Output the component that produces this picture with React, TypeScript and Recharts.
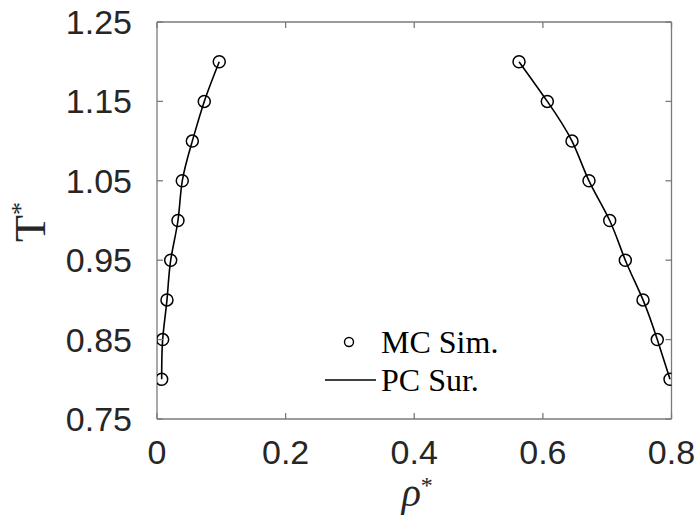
import { ComposedChart, Line, Scatter, XAxis, YAxis, Legend } from "recharts"

const temps = [0.8, 0.85, 0.9, 0.95, 1.0, 1.05, 1.1, 1.15, 1.2]
const rhoVapor = [0.0073, 0.0088, 0.0155, 0.0213, 0.0326, 0.0393, 0.0549, 0.0735, 0.0968]
const rhoLiquid = [0.7977, 0.7779, 0.7557, 0.7282, 0.7039, 0.6717, 0.6453, 0.6069, 0.5629]
const xTicks = [0, 0.2, 0.4, 0.6, 0.8]
const yTicks = [0.75, 0.85, 0.95, 1.05, 1.15, 1.25]

const vapor = temps.map((t, i) => ({ rho: rhoVapor[i], T: t }))
const liquid = temps.map((t, i) => ({ rho: rhoLiquid[i], T: t }))

const axisColor = "#7a7a7a"
const tickStyle = { fill: "#262626", fontSize: 34, fontFamily: "Liberation Sans, Arial, sans-serif" }

const RingDot = (props: any) => {
  const { cx, cy } = props
  if (cx == null || cy == null) return null
  return <circle cx={cx} cy={cy} r={6} fill="none" stroke="#000" strokeWidth={1.5} />
}

const LegendBox = () => (
  <div style={{ fontFamily: "Liberation Serif, Times New Roman, serif", fontSize: 32, color: "#000" }}>
    <div style={{ display: "flex", alignItems: "center", height: 38 }}>
      <svg width={56} height={38}>
        <circle cx={29} cy={19} r={4.5} fill="none" stroke="#000" strokeWidth={1.4} />
      </svg>
      <span style={{ marginLeft: 5 }}>MC Sim.</span>
    </div>
    <div style={{ display: "flex", alignItems: "center", height: 38 }}>
      <svg width={56} height={38}>
        <line x1={5} y1={19} x2={56} y2={19} stroke="#000" strokeWidth={1.5} />
      </svg>
      <span style={{ marginLeft: 5 }}>PC Sur.</span>
    </div>
  </div>
)

const YLabel = () => {
  const cx = 30
  const cy = 222
  return (
    <text
      x={cx}
      y={cy}
      transform={`rotate(-90, ${cx}, ${cy})`}
      textAnchor="middle"
      dominantBaseline="central"
      fontFamily="Liberation Serif, Times New Roman, serif"
      fontSize={44}
      fill="#262626"
    >
      <tspan>T</tspan>
      <tspan fontSize={26} dy={-10}>*</tspan>
    </text>
  )
}

const XLabel = (props: any) => {
  const { viewBox } = props
  const cx = viewBox.x + viewBox.width / 2 + 3
  return (
    <text
      x={cx}
      y={506}
      textAnchor="middle"
      fontFamily="Liberation Serif, Times New Roman, serif"
      fontSize={40}
      fill="#262626"
    >
      <tspan fontStyle="italic">ρ</tspan>
      <tspan fontSize={24} dy={-13}>*</tspan>
    </text>
  )
}

export default function App() {
  return (
    <div style={{ position: "absolute", left: 0, top: 0, background: "#fff" }}>
      <ComposedChart width={696} height={518} margin={{ top: 0, right: 0, bottom: 0, left: 0 }}>
        <XAxis
          xAxisId="bottom"
          dataKey="rho"
          type="number"
          domain={[0, 0.8]}
          ticks={xTicks}
          allowDataOverflow
          height={99}
          tickSize={-6}
          tickMargin={27}
          tick={tickStyle}
          axisLine={{ stroke: axisColor, strokeWidth: 1.3 }}
          tickLine={{ stroke: axisColor, strokeWidth: 1.3 }}
          label={<XLabel />}
        />
        <XAxis
          xAxisId="top"
          orientation="top"
          dataKey="rho"
          type="number"
          domain={[0, 0.8]}
          ticks={xTicks}
          allowDataOverflow
          height={22}
          tickSize={-6}
          tickFormatter={() => ""}
          axisLine={{ stroke: axisColor, strokeWidth: 1.3 }}
          tickLine={{ stroke: axisColor, strokeWidth: 1.3 }}
        />
        <YAxis
          yAxisId="left"
          dataKey="T"
          type="number"
          domain={[0.75, 1.25]}
          ticks={yTicks}
          allowDataOverflow
          width={157}
          tickSize={-6}
          tickMargin={31}
          tick={tickStyle}
          tickFormatter={(v: number) => v.toFixed(2)}
          axisLine={{ stroke: axisColor, strokeWidth: 1.3 }}
          tickLine={{ stroke: axisColor, strokeWidth: 1.3 }}
          label={<YLabel />}
        />
        <YAxis
          yAxisId="right"
          orientation="right"
          dataKey="T"
          type="number"
          domain={[0.75, 1.25]}
          ticks={yTicks}
          allowDataOverflow
          width={24.5}
          tickSize={-6}
          tickFormatter={() => ""}
          axisLine={{ stroke: axisColor, strokeWidth: 1.3 }}
          tickLine={{ stroke: axisColor, strokeWidth: 1.3 }}
        />
        <Line
          xAxisId="bottom"
          yAxisId="left"
          data={vapor}
          dataKey="T"
          type="natural"
          stroke="#000"
          strokeWidth={1.6}
          dot={false}
          isAnimationActive={false}
        />
        <Line
          xAxisId="bottom"
          yAxisId="left"
          data={liquid}
          dataKey="T"
          type="natural"
          stroke="#000"
          strokeWidth={1.6}
          dot={false}
          isAnimationActive={false}
        />
        <Scatter
          xAxisId="bottom"
          yAxisId="left"
          data={vapor}
          dataKey="T"
          shape={<RingDot />}
          isAnimationActive={false}
        />
        <Scatter
          xAxisId="bottom"
          yAxisId="left"
          data={liquid}
          dataKey="T"
          shape={<RingDot />}
          isAnimationActive={false}
        />
        <Legend
          layout="vertical"
          verticalAlign="middle"
          align="center"
          content={<LegendBox />}
          wrapperStyle={{ position: "absolute", left: 320, top: 323, width: "auto" }}
        />
      </ComposedChart>
    </div>
  )
}
